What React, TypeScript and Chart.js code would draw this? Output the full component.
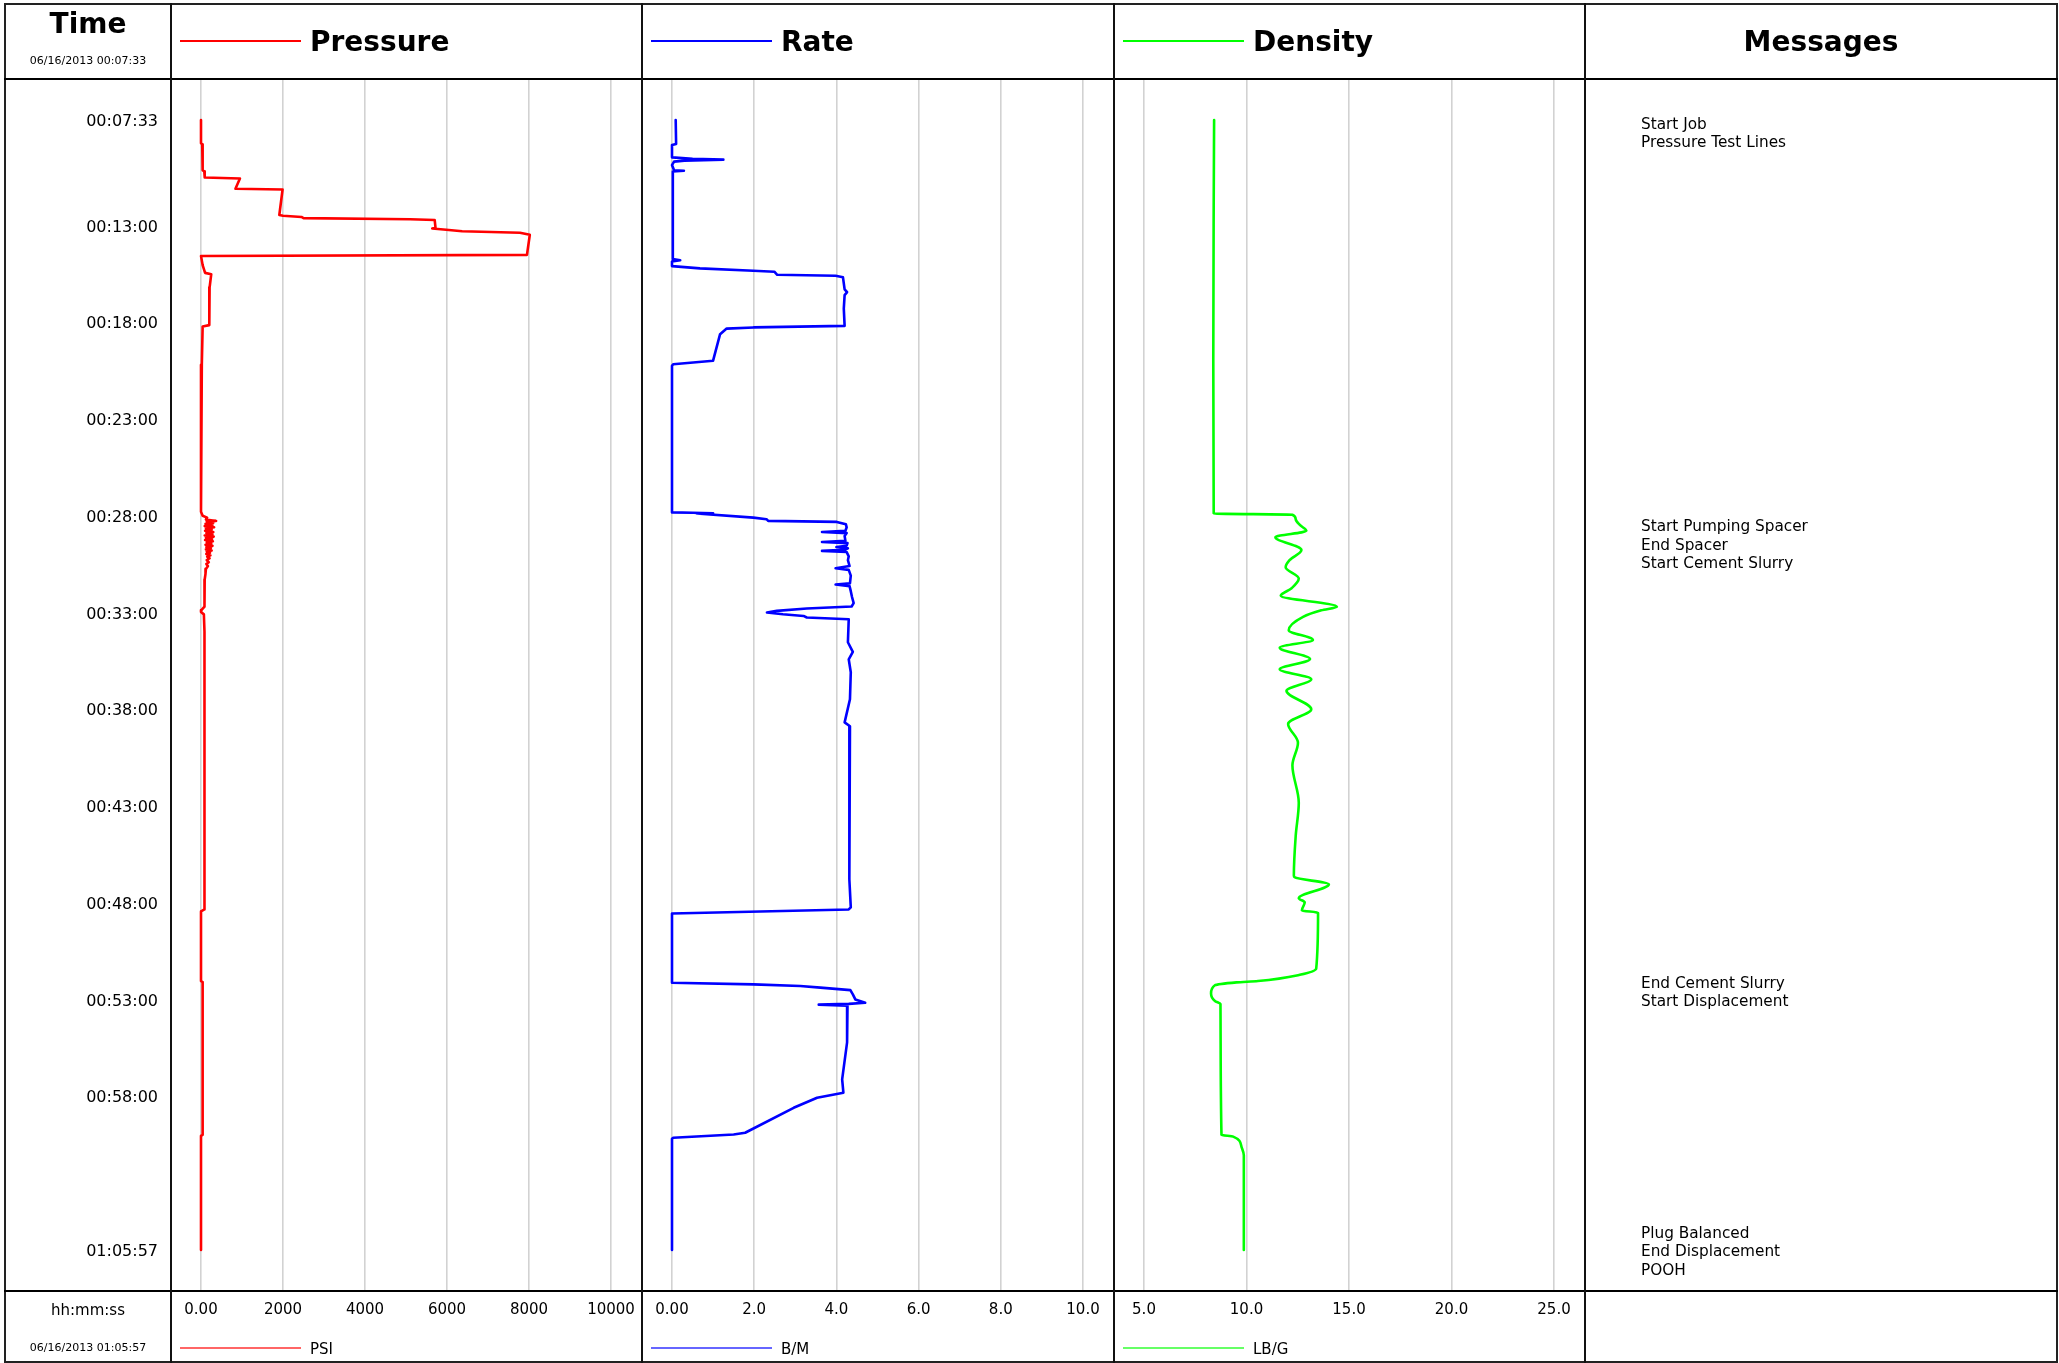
import React, { useEffect, useRef } from "react";
import { Chart, registerables } from "chart.js";

Chart.register(...registerables);

// ---------------- DATA ----------------
const startStamp = "06/16/2013 00:07:33";
const endStamp = "06/16/2013 01:05:57";
const tStart = 7.55; // minutes (00:07:33)
const tEnd = 65.95; // minutes (01:05:57)

const timeTicks = [7.55, 13, 18, 23, 28, 33, 38, 43, 48, 53, 58, 65.95];
const timeTickLabels = [
  "00:07:33", "00:13:00", "00:18:00", "00:23:00", "00:28:00", "00:33:00",
  "00:38:00", "00:43:00", "00:48:00", "00:53:00", "00:58:00", "01:05:57",
];

const pressureTimes = [
  7.55, 8.75, 8.8, 10.15, 10.2, 10.52, 10.57, 11.1, 11.14, 12.46, 12.5, 12.56, 12.62, 12.68, 12.72,
  13.12, 13.16, 13.22, 13.3, 13.38, 13.48, 14.52, 14.58, 15.05, 15.45, 15.52, 16.2, 17.0, 18.15, 18.22,
  20.2, 20.3, 27.8, 28.0, 28.1, 28.2, 28.27, 28.3, 28.36, 28.42, 28.48, 28.54, 28.6, 28.66, 28.72,
  28.78, 28.84, 28.9, 28.96, 29.02, 29.08, 29.14, 29.2, 29.26, 29.32, 29.38, 29.44, 29.5, 29.56, 29.62,
  29.68, 29.74, 29.8, 29.86, 29.92, 29.98, 30.05, 30.12, 30.2, 30.3, 30.4, 30.5, 30.6, 30.75, 31.0,
  31.3, 32.0, 32.7, 32.88, 32.98, 33.1, 34.0, 36.0, 40.0, 44.0, 48.35, 48.45, 52.05, 52.1, 60.0,
  60.05, 65.95,
];
const pressureValues = [
  0, 0, 30, 40, 80, 90, 950, 840, 1990, 1910, 2000, 2450, 2500, 5100, 5700,
  5720, 5640, 5980, 6370, 7780, 8020, 7950, 0, 40, 100, 250, 210, 200, 205, 40,
  20, 0, 0, 40, 150, 120, 370, 140, 300, 110, 280, 90, 320, 120, 260,
  100, 300, 130, 280, 90, 310, 120, 270, 100, 290, 140, 250, 110, 280, 130,
  240, 120, 260, 140, 220, 130, 230, 150, 210, 140, 190, 130, 170, 120, 110,
  90, 80, 90, 10, 0, 70, 85, 80, 85, 85, 90, 0, 0, 40, 40,
  0, 0,
];

const rateTimes = [
  7.55, 8.79, 8.84, 9.48, 9.55, 9.6, 9.65, 9.7, 9.88, 10.15, 10.17, 10.21, 14.74, 14.8, 14.86,
  15.1, 15.22, 15.34, 15.39, 15.55, 15.6, 15.68, 16.3, 16.45, 16.6, 17.3, 18.19, 18.27, 18.33, 18.62,
  19.99, 20.17, 20.25, 27.83, 27.85, 27.87, 27.89, 28.1, 28.18, 28.27, 28.32, 28.44, 28.6, 28.78, 28.84,
  28.9, 29.05, 29.3, 29.36, 29.42, 29.55, 29.62, 29.68, 29.76, 29.82, 29.88, 30.1, 30.3, 30.6, 30.72,
  30.8, 31.1, 31.5, 31.56, 31.64, 31.9, 32.2, 32.52, 32.69, 32.8, 32.92, 33.0, 33.09, 33.18, 33.26,
  33.35, 34.54, 35.04, 35.42, 36.09, 37.49, 38.68, 38.88, 42.66, 46.79, 48.24, 48.35, 48.56, 52.14, 52.22,
  52.31, 52.39, 52.52, 52.74, 53.0, 53.17, 53.23, 53.27, 53.32, 55.22, 57.13, 57.82, 58.08, 58.6, 59.89,
  59.98, 60.15, 60.2, 65.95,
];
const rateValues = [
  0.09, 0.1, 0.0, 0.0, 0.5, 1.25, 0.3, 0.05, 0.0, 0.05, 0.29, 0.02, 0.02, 0.2, 0.0,
  0.0, 0.68, 1.98, 2.49, 2.56, 3.98, 4.16, 4.2, 4.26, 4.2, 4.18, 4.2, 1.98, 1.33, 1.17,
  1.0, 0.03, 0.0, 0.0, 0.5, 1.0, 0.6, 1.98, 2.3, 2.34, 4.01, 4.23, 4.25, 4.22, 3.65,
  4.25, 4.2, 4.22, 3.65, 4.27, 4.25, 4.0, 4.28, 4.2, 3.65, 4.25, 4.3, 4.28, 4.32, 3.98,
  4.3, 4.35, 4.33, 3.98, 4.32, 4.35, 4.38, 4.42, 4.37, 3.28, 2.55, 2.31, 2.7, 3.2, 3.28,
  4.3, 4.28, 4.4, 4.3, 4.35, 4.33, 4.2, 4.33, 4.32, 4.31, 4.35, 4.3, 0.0, 0.0, 1.98,
  3.12, 3.61, 4.34, 4.4, 4.46, 4.7, 4.3, 3.57, 4.27, 4.26, 4.14, 4.17, 3.53, 2.96, 1.78,
  1.5, 0.03, 0.0, 0.0,
];

const densityTimes = [
  7.55, 12.0, 20.0, 27.89, 27.95, 28.18, 28.48, 28.78, 29.11, 29.77, 30.3, 30.66, 31.25, 31.75, 32.14,
  32.7, 32.89, 33.23, 33.92, 34.42, 34.82, 35.41, 35.94, 36.45, 37.05, 38.0, 38.76, 39.73, 40.9, 42.83,
  44.55, 46.59, 46.69, 47.05, 47.77, 47.98, 48.4, 48.52, 51.41, 51.73, 52.05, 52.12, 52.27, 52.69, 53.08,
  53.23, 60.0, 60.09, 60.63, 61.05, 65.95,
];
const densityValues = [
  8.42, 8.4, 8.38, 8.4, 12.24, 12.4, 12.6, 12.92, 11.41, 12.68, 12.1, 11.91, 12.55, 12.2, 11.67,
  14.41, 13.65, 12.76, 12.06, 13.24, 11.62, 13.1, 11.62, 13.16, 11.95, 13.16, 12.03, 12.51, 12.24, 12.55,
  12.4, 12.31, 12.35, 14.02, 12.55, 12.84, 12.7, 13.49, 13.4, 12.6, 10.56, 9.51, 8.46, 8.27, 8.46,
  8.73, 8.78, 9.35, 9.76, 9.87, 9.87,
];

const pressureTicks = [0, 2000, 4000, 6000, 8000, 10000];
const pressureTickLabels = ["0.00", "2000", "4000", "6000", "8000", "10000"];
const rateTicks = [0, 2, 4, 6, 8, 10];
const rateTickLabels = ["0.00", "2.0", "4.0", "6.0", "8.0", "10.0"];
const densityTicks = [5, 10, 15, 20, 25];
const densityTickLabels = ["5.0", "10.0", "15.0", "20.0", "25.0"];

const messageTimes = [7.8, 8.0, 28.6, 28.9, 29.4, 52.2, 52.4, 65.12, 65.5, 65.95];
const messageTexts = [
  "Start Job", "Pressure Test Lines", "Start Pumping Spacer", "End Spacer", "Start Cement Slurry",
  "End Cement Slurry", "Start Displacement", "Plug Balanced", "End Displacement", "POOH",
];

// ---------------- LAYOUT ----------------
const FONT = '"DejaVu Sans", Verdana, sans-serif';
const FRAME_L = 4, FRAME_T = 3, FRAME_R = 2058, FRAME_B = 1363;
const HEADER_B = 79;
const FOOTER_T = 1291;
const COLS = [5, 171, 642, 1114, 1585, 2057];
const AREA_H = FOOTER_T - HEADER_B;
const CANVAS_H = FRAME_B - 1 - HEADER_B;
const AXIS_H = CANVAS_H - AREA_H;
const DATA_PAD = 41;
const minPerPx = (tEnd - tStart) / (AREA_H - 2 * DATA_PAD);
const yMin = tStart - DATA_PAD * minPerPx;
const yMax = tEnd + DATA_PAD * minPerPx;

const yScale = (display: boolean) => ({
  type: "linear" as const,
  display,
  reverse: true,
  min: yMin,
  max: yMax,
});

function trackConfig(
  times: number[], values: number[], color: string,
  min: number, max: number, ticks: number[], labels: string[], smooth: boolean,
) {
  return {
    type: "line" as const,
    data: {
      datasets: [
        {
          data: times.map((t, i) => ({ x: values[i], y: t })),
          borderColor: color,
          borderWidth: 2.6,
          borderJoinStyle: "round" as const,
          borderCapStyle: "round" as const,
          pointRadius: 0,
          tension: smooth ? 0.4 : 0,
          cubicInterpolationMode: smooth ? ("monotone" as const) : ("default" as const),
          fill: false,
          clip: false as any,
        },
      ],
    },
    options: {
      animation: false as const,
      responsive: false,
      maintainAspectRatio: false,
      indexAxis: "y" as const,
      events: [],
      layout: { padding: { left: 30, right: 31, top: 0, bottom: 0 } },
      plugins: { legend: { display: false }, tooltip: { enabled: false } },
      scales: {
        x: {
          type: "linear" as const,
          position: "bottom" as const,
          min,
          max,
          afterBuildTicks: (s: any) => {
            s.ticks = ticks.map((v) => ({ value: v }));
          },
          afterFit: (s: any) => {
            s.height = AXIS_H;
            s.paddingLeft = 0;
            s.paddingRight = 0;
          },
          ticks: {
            autoSkip: false,
            maxRotation: 0,
            padding: 10,
            color: "#000",
            font: { family: FONT, size: 15 },
            callback: (_v: any, i: number) => labels[i],
          },
          grid: { color: "#d2d2d2", lineWidth: 1.6, drawTicks: false },
          border: { display: false },
        },
        y: yScale(false),
      },
    },
  };
}

function timeConfig() {
  return {
    type: "scatter" as const,
    data: { datasets: [] },
    options: {
      animation: false as const,
      responsive: false,
      maintainAspectRatio: false,
      events: [],
      layout: { padding: { left: 0, right: 0, top: 0, bottom: AXIS_H } },
      plugins: { legend: { display: false }, tooltip: { enabled: false } },
      scales: {
        x: { type: "linear" as const, display: false, min: 0, max: 1 },
        y: {
          ...yScale(true),
          position: "left" as const,
          afterBuildTicks: (s: any) => {
            s.ticks = timeTicks.map((v) => ({ value: v }));
          },
          afterFit: (s: any) => {
            s.width = 160;
            s.paddingTop = 0;
            s.paddingBottom = 0;
          },
          ticks: {
            autoSkip: false,
            padding: 7,
            labelOffset: 2,
            color: "#000",
            font: { family: FONT, size: 16 },
            callback: (_v: any, i: number) => timeTickLabels[i],
          },
          grid: { display: false, drawTicks: false },
          border: { display: false },
        },
      },
    },
  };
}

const messagesPlugin = {
  id: "messagesText",
  afterDatasetsDraw(chart: any) {
    const ctx = chart.ctx;
    const y = chart.scales.y;
    ctx.save();
    ctx.font = `15.3px ${FONT}`;
    ctx.fillStyle = "#000";
    ctx.textAlign = "left";
    ctx.textBaseline = "middle";
    let last = -Infinity;
    messageTimes.forEach((t, i) => {
      let py = y.getPixelForValue(t);
      if (py < last + 18.4) py = last + 18.4;
      ctx.fillText(messageTexts[i], 56, py);
      last = py;
    });
    ctx.restore();
  },
};

function messagesConfig() {
  return {
    type: "scatter" as const,
    data: { datasets: [] },
    options: {
      animation: false as const,
      responsive: false,
      maintainAspectRatio: false,
      events: [],
      layout: { padding: { left: 0, right: 0, top: 0, bottom: AXIS_H } },
      plugins: { legend: { display: false }, tooltip: { enabled: false } },
      scales: {
        x: { type: "linear" as const, display: false, min: 0, max: 1 },
        y: yScale(false),
      },
    },
    plugins: [messagesPlugin],
  };
}

function ChartCanvas(props: { left: number; width: number; make: () => any }) {
  const ref = useRef<HTMLCanvasElement | null>(null);
  useEffect(() => {
    const chart = new Chart(ref.current as HTMLCanvasElement, props.make());
    return () => chart.destroy();
  }, []);
  return (
    <div style={{ position: "absolute", left: props.left, top: HEADER_B, width: props.width, height: CANVAS_H }}>
      <canvas ref={ref} width={props.width} height={CANVAS_H} style={{ width: props.width, height: CANVAS_H }} />
    </div>
  );
}

const abs = (s: React.CSSProperties): React.CSSProperties => ({ position: "absolute", ...s });

function Header(props: { col: number; title: string; color: string }) {
  const l = COLS[props.col];
  return (
    <>
      <div style={abs({ left: l + 9, top: 40, width: 121, height: 1.5, background: props.color })} />
      <div style={abs({ left: l + 139, top: 24, height: 36, lineHeight: "36px", fontSize: 28, fontWeight: "bold", whiteSpace: "nowrap" })}>
        {props.title}
      </div>
    </>
  );
}

function FooterLegend(props: { col: number; unit: string; color: string }) {
  const l = COLS[props.col];
  return (
    <>
      <div style={abs({ left: l + 9, top: 1347, width: 121, height: 2, background: props.color })} />
      <div style={abs({ left: l + 139, top: 1339, height: 20, lineHeight: "20px", fontSize: 15, whiteSpace: "nowrap" })}>
        {props.unit}
      </div>
    </>
  );
}

export default function App() {
  const line = "#000";
  return (
    <div style={abs({ left: 0, top: 0, width: 2059, height: 1363, background: "#fff", fontFamily: FONT, color: "#000", overflow: "hidden" })}>
      <ChartCanvas left={COLS[0]} width={COLS[1] - COLS[0]} make={timeConfig} />
      <ChartCanvas left={COLS[1]} width={COLS[2] - COLS[1]} make={() => trackConfig(pressureTimes, pressureValues, "#ff0000", 0, 10000, pressureTicks, pressureTickLabels, false)} />
      <ChartCanvas left={COLS[2]} width={COLS[3] - COLS[2]} make={() => trackConfig(rateTimes, rateValues, "#0000ff", 0, 10, rateTicks, rateTickLabels, false)} />
      <ChartCanvas left={COLS[3]} width={COLS[4] - COLS[3]} make={() => trackConfig(densityTimes, densityValues, "#00ff00", 5, 25, densityTicks, densityTickLabels, true)} />
      <ChartCanvas left={COLS[4]} width={COLS[5] - COLS[4]} make={messagesConfig} />

      {/* frame */}
      <div style={abs({ left: FRAME_L, top: FRAME_T, width: FRAME_R - FRAME_L, height: FRAME_B - FRAME_T, border: "2px solid #222", boxSizing: "border-box" })} />
      <div style={abs({ left: FRAME_L, top: HEADER_B - 1, width: FRAME_R - FRAME_L, height: 2, background: line })} />
      <div style={abs({ left: FRAME_L, top: FOOTER_T - 1, width: FRAME_R - FRAME_L, height: 2, background: line })} />
      {COLS.slice(1, 5).map((x, i) => (
        <div key={i} style={abs({ left: x - 1, top: FRAME_T, width: 1.6, height: FRAME_B - FRAME_T, background: "#111" })} />
      ))}

      {/* header */}
      <div style={abs({ left: COLS[0], top: 6, width: COLS[1] - COLS[0], textAlign: "center", fontSize: 28, fontWeight: "bold", lineHeight: "36px" })}>Time</div>
      <div style={abs({ left: COLS[0], top: 53, width: COLS[1] - COLS[0], textAlign: "center", fontSize: 11, lineHeight: "16px" })}>{startStamp}</div>
      <Header col={1} title="Pressure" color="#ff0000" />
      <Header col={2} title="Rate" color="#0000ff" />
      <Header col={3} title="Density" color="#00ff00" />
      <div style={abs({ left: COLS[4], top: 24, width: COLS[5] - COLS[4], textAlign: "center", fontSize: 28, fontWeight: "bold", lineHeight: "36px" })}>Messages</div>

      {/* footer */}
      <div style={abs({ left: COLS[0], top: 1300, width: COLS[1] - COLS[0], textAlign: "center", fontSize: 15, lineHeight: "20px" })}>hh:mm:ss</div>
      <div style={abs({ left: COLS[0], top: 1340, width: COLS[1] - COLS[0], textAlign: "center", fontSize: 11, lineHeight: "16px" })}>{endStamp}</div>
      <FooterLegend col={1} unit="PSI" color="rgba(255,0,0,0.6)" />
      <FooterLegend col={2} unit="B/M" color="rgba(0,0,255,0.6)" />
      <FooterLegend col={3} unit="LB/G" color="rgba(0,255,0,0.6)" />
    </div>
  );
}
